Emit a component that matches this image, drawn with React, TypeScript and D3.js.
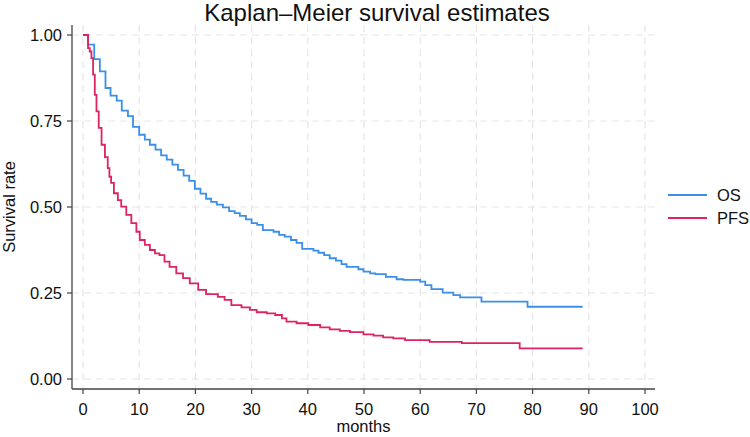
import React, { useEffect, useRef } from 'react';
import * as d3 from 'd3';

// Kaplan-Meier step points (month at which survival drops, survival after drop)
const osMonths = [0, 0.9, 2.0, 3.0, 4.0, 4.9, 6.0, 6.9, 8.0, 8.9, 10.0, 11.0, 11.9, 12.9, 13.9, 14.9, 15.9, 16.9, 17.9, 18.9, 19.9, 20.9, 21.9, 22.8, 23.8, 24.9, 26.0, 27.0, 27.9, 29.0, 30.0, 31.0, 32.0, 33.9, 34.9, 35.9, 37.0, 38.0, 39.0, 41.0, 41.9, 42.9, 43.9, 45.0, 46.0, 46.9, 49.0, 49.9, 51.1, 52.0, 53.9, 55.8, 57.0, 60.0, 60.9, 62.0, 64.0, 65.9, 67.1, 70.9, 79.1, 88.9];
const osSurvival = [1, 0.972, 0.930, 0.894, 0.846, 0.824, 0.809, 0.780, 0.764, 0.733, 0.710, 0.696, 0.681, 0.667, 0.650, 0.638, 0.623, 0.608, 0.591, 0.576, 0.553, 0.539, 0.524, 0.515, 0.507, 0.499, 0.488, 0.482, 0.474, 0.464, 0.453, 0.448, 0.433, 0.428, 0.419, 0.414, 0.404, 0.396, 0.378, 0.373, 0.367, 0.360, 0.351, 0.344, 0.334, 0.326, 0.319, 0.312, 0.307, 0.305, 0.297, 0.290, 0.288, 0.283, 0.273, 0.261, 0.251, 0.244, 0.237, 0.225, 0.210, 0.210];

const pfsMonths = [0, 0.9, 1.2, 1.5, 1.8, 2.1, 2.4, 2.8, 3.3, 3.9, 4.4, 4.7, 5.0, 5.5, 6.2, 6.8, 7.7, 8.6, 9.5, 10.1, 11.0, 11.9, 12.8, 13.6, 14.5, 15.4, 16.6, 17.8, 19.0, 20.5, 21.9, 24.0, 25.2, 26.4, 28.2, 29.7, 30.9, 32.7, 34.2, 35.4, 36.2, 38.0, 40.1, 42.2, 43.9, 45.7, 47.5, 49.9, 51.7, 53.4, 55.2, 57.3, 61.7, 67.4, 77.7, 88.9];
const pfsSurvival = [1, 0.962, 0.952, 0.933, 0.885, 0.826, 0.778, 0.730, 0.681, 0.645, 0.613, 0.588, 0.570, 0.540, 0.520, 0.501, 0.477, 0.453, 0.428, 0.404, 0.390, 0.375, 0.365, 0.360, 0.341, 0.326, 0.307, 0.293, 0.278, 0.259, 0.247, 0.239, 0.230, 0.215, 0.208, 0.201, 0.194, 0.191, 0.186, 0.176, 0.167, 0.162, 0.157, 0.150, 0.144, 0.140, 0.136, 0.130, 0.126, 0.121, 0.118, 0.113, 0.108, 0.104, 0.089, 0.089];

const seriesNames = ['OS', 'PFS'];
const seriesColors = ['#3a8fe8', '#dd2360'];

const xTicks = [0, 10, 20, 30, 40, 50, 60, 70, 80, 90, 100];
const yTicks = [0, 0.25, 0.5, 0.75, 1];

const FONT = '"Liberation Sans", Arial, Helvetica, sans-serif';

function App() {
  const svgRef = useRef<SVGSVGElement>(null);

  useEffect(() => {
    const svg = d3.select(svgRef.current);
    svg.selectAll('*').remove();

    // plot frame (axis lines) and data region
    const frame = { left: 72, right: 655, top: 25, bottom: 389 };
    const x = d3.scaleLinear().domain([0, 100]).range([83, 645]);
    const y = d3.scaleLinear().domain([0, 1]).range([379, 35]);

    svg.append('rect').attr('width', 750).attr('height', 437).attr('fill', '#fff');

    // grid
    const grid = svg.append('g').attr('stroke', '#e6e6e6').attr('stroke-width', 1.2).attr('stroke-dasharray', '7,5');
    grid.selectAll('.hg').data(yTicks).enter().append('line')
      .attr('x1', frame.left).attr('x2', frame.right)
      .attr('y1', d => y(d)).attr('y2', d => y(d));
    grid.selectAll('.vg').data(xTicks).enter().append('line')
      .attr('y1', frame.top).attr('y2', frame.bottom)
      .attr('x1', d => x(d)).attr('x2', d => x(d));

    // axes
    const axisColor = '#444';
    svg.append('line').attr('x1', frame.left).attr('x2', frame.left)
      .attr('y1', frame.top).attr('y2', frame.bottom).attr('stroke', axisColor).attr('stroke-width', 1.3);
    svg.append('line').attr('x1', frame.left).attr('x2', frame.right)
      .attr('y1', frame.bottom).attr('y2', frame.bottom).attr('stroke', axisColor).attr('stroke-width', 1.3);

    const yAx = svg.append('g');
    yAx.selectAll('line').data(yTicks).enter().append('line')
      .attr('x1', frame.left - 5).attr('x2', frame.left)
      .attr('y1', d => y(d)).attr('y2', d => y(d))
      .attr('stroke', axisColor).attr('stroke-width', 1.2);
    yAx.selectAll('text').data(yTicks).enter().append('text')
      .attr('x', frame.left - 10).attr('y', d => y(d)).attr('dy', '0.36em')
      .attr('text-anchor', 'end').attr('font-family', FONT).attr('font-size', 16.5).attr('fill', '#111')
      .text(d => d3.format('.2f')(d));

    const xAx = svg.append('g');
    xAx.selectAll('line').data(xTicks).enter().append('line')
      .attr('x1', d => x(d)).attr('x2', d => x(d))
      .attr('y1', frame.bottom).attr('y2', frame.bottom + 5)
      .attr('stroke', axisColor).attr('stroke-width', 1.2);
    xAx.selectAll('text').data(xTicks).enter().append('text')
      .attr('x', d => x(d)).attr('y', 415)
      .attr('text-anchor', 'middle').attr('font-family', FONT).attr('font-size', 16.5).attr('fill', '#111')
      .text(d => d);

    // titles
    svg.append('text').attr('x', 377).attr('y', 21).attr('text-anchor', 'middle')
      .attr('font-family', FONT).attr('font-size', 24).attr('fill', '#111')
      .text('Kaplan–Meier survival estimates');
    svg.append('text').attr('x', (frame.left + frame.right) / 2).attr('y', 432).attr('text-anchor', 'middle')
      .attr('font-family', FONT).attr('font-size', 16.5).attr('fill', '#111')
      .text('months');
    svg.append('text').attr('transform', `translate(15,${(frame.top + frame.bottom) / 2}) rotate(-90)`)
      .attr('text-anchor', 'middle').attr('font-family', FONT).attr('font-size', 16.5).attr('fill', '#111')
      .text('Survival rate');

    // curves
    const line = d3.line<[number, number]>()
      .x(d => x(d[0]))
      .y(d => y(d[1]))
      .curve(d3.curveStepAfter);

    const series: [number, number][][] = [
      osMonths.map((m, i) => [m, osSurvival[i]]),
      pfsMonths.map((m, i) => [m, pfsSurvival[i]]),
    ];

    svg.selectAll('.km').data(series).enter().append('path')
      .attr('d', d => line(d))
      .attr('fill', 'none')
      .attr('stroke', (d, i) => seriesColors[i])
      .attr('stroke-width', 1.8);

    // legend
    const legend = svg.append('g');
    seriesNames.forEach((name, i) => {
      const ly = 195 + i * 23;
      legend.append('line').attr('x1', 668).attr('x2', 707).attr('y1', ly).attr('y2', ly)
        .attr('stroke', seriesColors[i]).attr('stroke-width', 1.8);
      legend.append('text').attr('x', 717).attr('y', ly).attr('dy', '0.36em')
        .attr('font-family', FONT).attr('font-size', 16.5).attr('fill', '#111')
        .text(name);
    });
  }, []);

  return (
    <svg ref={svgRef} width="750" height="437" style={{ position: 'absolute', left: 0, top: 0 }}></svg>
  );
}

export default App;
